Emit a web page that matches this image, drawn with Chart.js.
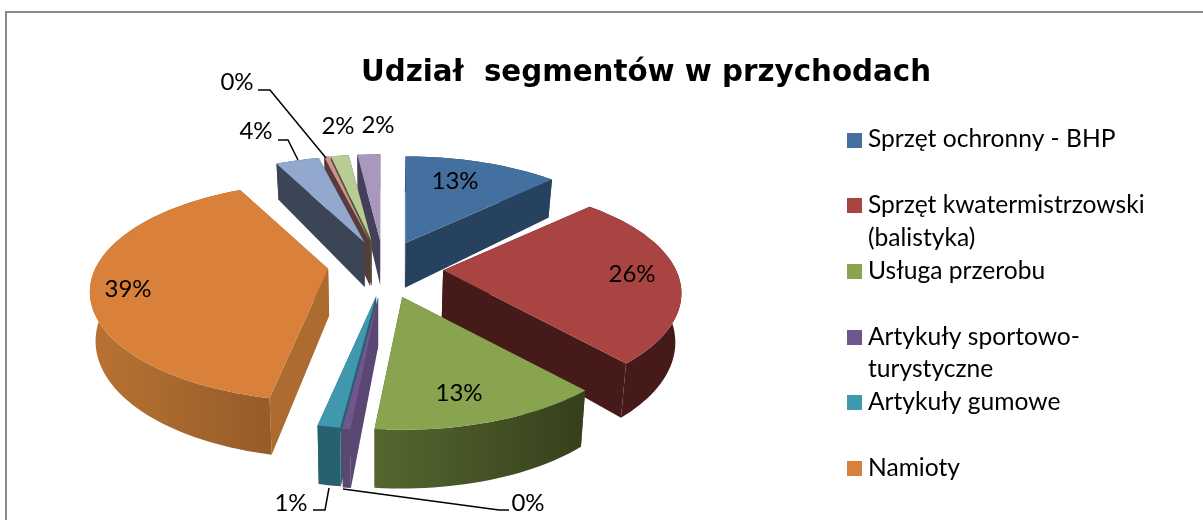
<!DOCTYPE html>
<html>
<head>
<meta charset="utf-8">
<style>
  html, body { margin: 0; padding: 0; background: #fff; overflow: hidden; }
  canvas { display: block; }
</style>
<script src="https://cdn.jsdelivr.net/npm/chart.js@4"></script>
</head>
<body>
<canvas id="chart" width="1203" height="520"></canvas>
<script>
// data
const categories = ['Sprzęt ochronny - BHP', 'Sprzęt kwatermistrzowski (balistyka)', 'Usługa przerobu',
  'Artykuły sportowo-turystyczne', 'Artykuły gumowe', 'Namioty', 'Pozostałe 1', 'Pozostałe 2', 'Pozostałe 3', 'Pozostałe 4'];
const shares = [12.8, 25.7, 13, 0.45, 1.25, 39.4, 3.6, 0.4, 1.5, 1.9];
const legendLines = [
  ['Sprzęt ochronny - BHP', ''],
  ['Sprzęt kwatermistrzowski', '(balistyka)'],
  ['Usługa przerobu', ''],
  ['Artykuły sportowo-', 'turystyczne'],
  ['Artykuły gumowe', ''],
  ['Namioty']
];

// colours
const topColors = ['#44709f', '#a94442', '#88a44e', '#6f568c', '#4098af', '#d9803b', '#92a8ce', '#d09291', '#b8cc95', '#a898bd'];
const sideLeft = ['#27425f', '#451a18', '#55672f', '#5a4774', '#286070', '#b97332', '#3b4556', '#5a3b3b', '#4a5a32', '#45405a'];
const sideRight = ['#27425f', '#451a18', '#363f1c', '#5a4774', '#286070', '#8a5426', '#3b4556', '#5a3b3b', '#4a5a32', '#45405a'];
const wallColors = ['#27425f', '#451a18', '#4f602b', '#5a4774', '#286070', '#ae6b2f', '#3b4556', '#5a3b3b', '#4a5a32', '#45405a'];
const explode = [66, 67, 62, 60, 58, 48, 66, 66, 66, 66];
const nudgeX = [5, 0, 6, 9, 10, 0, 10, 8, 6, 8];
const nudgeY = [0, 0, 0, 0, 0, -3, 0, 0, 0, 0];

// label placement (centre of text)
const labelSpots = [[455, 181], [632, 274], [459, 393], [528, 503], [291, 503], [128, 289], [256, 131], [237, 82], [338, 126], [378, 125]];
const leaders = [
  null, null, null,
  [[509, 510], [499, 510], [343, 489]],
  [[313, 510], [325, 510], [329, 488]],
  null,
  [[278, 140], [288, 140], [298, 160]],
  [[258, 90], [270, 90], [326, 158]],
  null, null
];

// fake 3D projection settings
const pieX = 376, pieY = 269, radius = 233, tilt = 0.45, persp = 0.21, depth = 47;

function persFactor(v) { return 1 / (1 - persp * v); }

function sliceFace(arc, offset, nx, ny) {
  // offset comes from the library option, angles from the arc element
  const mid = (arc.startAngle + arc.endAngle) / 2;
  const ou = offset * Math.cos(mid) / radius, ov = offset * Math.sin(mid) / radius;
  const ax = pieX + nx + radius * ou * persFactor(ov);
  const ay = pieY + ny + radius * tilt * ov * persFactor(ov);
  const apex = { x: ax, y: ay, v: ov };
  const rim = [];
  const steps = Math.max(2, Math.ceil((arc.endAngle - arc.startAngle) / 0.03));
  for (let i = 0; i <= steps; i++) {
    const a = arc.startAngle + (arc.endAngle - arc.startAngle) * i / steps;
    const u = Math.cos(a), v = Math.sin(a), f = persFactor(v);
    rim.push({ x: ax + radius * u * f, y: ay + radius * tilt * v * f, v: ov + v });
  }
  return { apex, rim };
}

function lower(p) {
  return { x: pieX + (p.x - pieX) * 0.98, y: p.y + depth * (1 + 0.2 * p.v) };
}

function fillPoly(ctx, pts, color) {
  ctx.beginPath();
  pts.forEach((p, i) => i ? ctx.lineTo(p.x, p.y) : ctx.moveTo(p.x, p.y));
  ctx.closePath();
  ctx.fillStyle = color;
  ctx.fill();
}

const pie3d = {
  id: 'pie3d',
  beforeDraw(chart) {
    // chart frame: only the top and left edges are in the window
    const ctx = chart.ctx;
    ctx.fillStyle = '#888888';
    ctx.fillRect(5, 11, 1198, 2);
    ctx.fillRect(5, 11, 2, 509);
  },
  beforeDatasetsDraw(chart) {
    const ctx = chart.ctx;
    const arcs = chart.getDatasetMeta(0).data;
    const order = arcs.map((a, i) => i).sort((a, b) => {
      const ma = (arcs[a].startAngle + arcs[a].endAngle) / 2, mb = (arcs[b].startAngle + arcs[b].endAngle) / 2;
      return Math.sin(ma) - Math.sin(mb);
    });
    ctx.save();
    order.forEach(i => {
      const arc = arcs[i];
      const { apex, rim } = sliceFace(arc, arc.options.offset, nudgeX[i], nudgeY[i]);
      const lowApex = lower(apex), lowRim = rim.map(lower);
      // radial walls, then the rim over them with its gradient, then the top
      const xs = rim.map(p => p.x).concat(apex.x);
      const grad = ctx.createLinearGradient(Math.min(...xs), 0, Math.max(...xs), 0);
      grad.addColorStop(0, sideLeft[i]);
      grad.addColorStop(1, sideRight[i]);
      fillPoly(ctx, [apex, rim[0], lowRim[0], lowApex], wallColors[i]);
      fillPoly(ctx, [apex, rim[rim.length - 1], lowRim[lowRim.length - 1], lowApex], wallColors[i]);
      fillPoly(ctx, rim.concat(lowRim.slice().reverse()), grad);
      fillPoly(ctx, [apex].concat(rim), topColors[i]);
    });
    ctx.restore();
    return false; // arcs are painted above in projected form
  },
  afterDraw(chart) {
    const ctx = chart.ctx;
    ctx.save();
    ctx.fillStyle = '#000';
    ctx.font = '24px Lato';
    ctx.textAlign = 'center';
    ctx.textBaseline = 'middle';
    shares.forEach((s, i) => {
      ctx.fillText(Math.round(s) + '%', labelSpots[i][0], labelSpots[i][1]);
    });
    ctx.strokeStyle = '#000';
    ctx.lineWidth = 1.5;
    leaders.forEach(line => {
      if (!line) return;
      ctx.beginPath();
      line.forEach((p, i) => i ? ctx.lineTo(p[0], p[1]) : ctx.moveTo(p[0], p[1]));
      ctx.stroke();
    });

    // legend, one swatch per segment, wrapped lines keep the same pitch
    ctx.textAlign = 'left';
    ctx.font = '24.6px Lato';
    let row = 0;
    legendLines.forEach((lines, i) => {
      const y = 139.5 + row * 32.85;
      ctx.fillStyle = topColors[i];
      ctx.fillRect(847, Math.round(y) - 7, 15, 15);
      ctx.fillStyle = '#000';
      lines.forEach((t, j) => ctx.fillText(t, 868, y + j * 32.85));
      row += lines.length;
    });
    ctx.restore();
  }
};

new Chart(document.getElementById('chart'), {
  type: 'pie',
  data: {
    labels: categories,
    datasets: [{
      data: shares,
      backgroundColor: topColors,
      offset: explode,
      borderWidth: 0
    }]
  },
  options: {
    responsive: false,
    animation: false,
    layout: { padding: { left: 147, right: 58, top: 0, bottom: 0 } },
    plugins: {
      title: {
        display: true,
        text: 'Udział  segmentów w przychodach',
        color: '#000',
        font: { family: 'DejaVu Sans', size: 29.3, weight: 'bold', lineHeight: 1.2 },
        padding: { top: 56, bottom: 20 }
      },
      legend: { display: false },
      tooltip: { enabled: false }
    }
  },
  plugins: [pie3d]
});
</script>
</body>
</html>
